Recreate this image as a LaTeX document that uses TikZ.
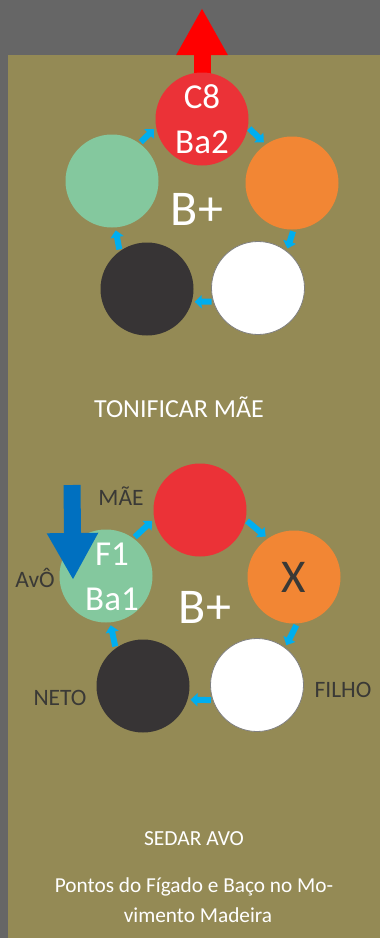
\documentclass[tikz,border=0pt]{standalone}
\usepackage{fontspec}
\setmainfont{Carlito}
\usetikzlibrary{arrows.meta,positioning}
\definecolor{panelgray}{HTML}{666666}
\definecolor{panelolive}{HTML}{948A55}
\definecolor{fogo}{HTML}{EB3237}
\definecolor{madeira}{HTML}{84C89E}
\definecolor{terra}{HTML}{F28634}
\definecolor{agua}{HTML}{373435}
\definecolor{ciclo}{HTML}{00AEEF}
\definecolor{sedar}{HTML}{0070C0}
\definecolor{rotulo}{HTML}{3A3936}
\tikzset{
    ball/.style={
        circle,
        inner sep=0pt,
        outer sep=0pt,
        minimum size=93pt,
        text=white,
        align=center,
        font=\fontsize{35}{45}\selectfont,
    },
    metal/.style={
        ball,
        fill=white,
        draw=gray,
        line width=0.8pt,
    },
    cycle/.style={
        draw=ciclo,
        line width=6pt,
        -{Triangle[width=13pt,length=7pt]},
        shorten <=2pt,
        shorten >=3pt,
    },
    bigarrow/.style={
        line width=17pt,
        -{Triangle[width=48pt,length=47pt]},
    },
    sign/.style={
        text=white,
        font=\fontsize{50}{60}\selectfont,
        anchor=base,
    },
    caption/.style={
        text=white,
        anchor=base,
    },
    element/.style={
        text=rotulo,
        font=\fontsize{23.5}{28}\selectfont,
        anchor=base,
    },
}
\begin{document}
\begin{tikzpicture}[x=1pt,y=-1pt]
    % background
    \fill[panelgray] (0,0) rectangle (380,938);
    \useasboundingbox (0,0) rectangle (380,938);
    \fill[panelolive] (8,55) rectangle (380,938);

    % tonificar
    \coordinate (upTip) at (202,8);
    \draw[bigarrow, draw=red, fill=red] (202,75) -- (upTip);
    \node[ball, fill=fogo] at (202,119) (fireT) {C8\\Ba2};
    \node[ball, fill=terra] at (292,183) (earthT) {};
    \node[metal] at (258,288) (metalT) {};
    \node[ball, fill=agua] at (147,289) (waterT) {};
    \node[ball, fill=madeira] at (112,181) (woodT) {};
    \node[sign] at (197,225) (plusT) {B+};
    \draw[cycle] (fireT.-10) -- (earthT.124);
    \draw[cycle] (earthT.-88) -- (metalT.52);
    \draw[cycle] (metalT.197) -- (waterT.-16);
    \draw[cycle] (waterT.126) -- (woodT.-86);
    \draw[cycle] (woodT.54) -- (fireT.190);
    \node[caption, font=\fontsize{26}{30}\selectfont] at (179,417) (tonificar) {TONIFICAR MÃE};

    % sedar
    \node[ball, fill=fogo] at (200,510) (fireB) {};
    \node[ball, fill=terra, text=rotulo, font=\fontsize{47}{56}\selectfont] at (294,577) (earthB) {X};
    \node[metal] at (257,685) (metalB) {};
    \node[ball, fill=agua] at (143,686) (waterB) {};
    \node[ball, fill=madeira] at (106,576) (woodB) {};
    \coordinate (downStart) at (72,485);
    \coordinate (downTip) at (73,580);
    \draw[bigarrow, draw=sedar, fill=sedar] (downStart) -- (downTip);
    \node[ball] at (112,577) (woodText) {F1\\Ba1};
    \node[sign] at (205,623) (plusB) {B+};
    \draw[cycle] (fireB.-12) -- (earthB.124);
    \draw[cycle] (earthB.-86) -- (metalB.53);
    \draw[cycle] (metalB.199) -- (waterB.-17);
    \draw[cycle] (waterB.126) -- (woodB.-85);
    \draw[cycle] (woodB.54) -- (fireB.191);
    \node[element] at (121,505) (mae) {MÃE};
    \node[element] at (35,587) (avo) {AvÔ};
    \node[element] at (60,705) (neto) {NETO};
    \node[element] at (343,697) (filho) {FILHO};

    % legenda
    \node[caption, font=\fontsize{21.5}{25}\selectfont] at (194,845) (sedarAvo) {SEDAR AVO};
    \node[caption, font=\fontsize{21.3}{25}\selectfont] at (194,892) (pontos) {Pontos do Fígado e Baço no Mo-};
    \node[caption, font=\fontsize{21.3}{25}\selectfont] at (198,922) (movimento) {vimento Madeira};
\end{tikzpicture}
\end{document}
